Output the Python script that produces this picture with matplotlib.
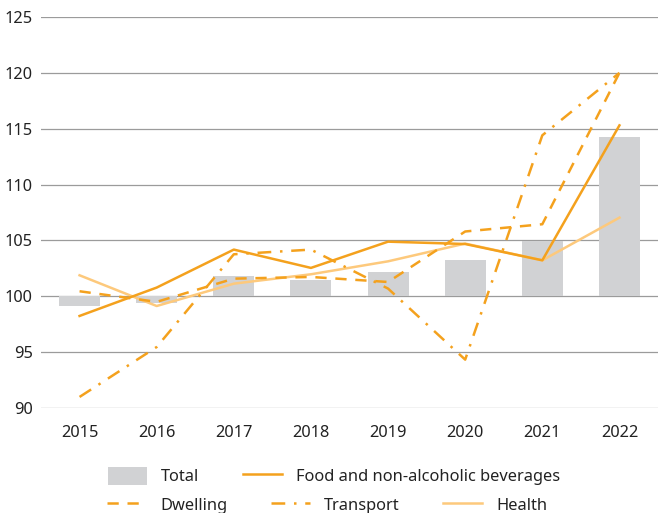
import matplotlib
matplotlib.use("Agg")
import matplotlib.pyplot as plt
from matplotlib.lines import Line2D
from matplotlib.patches import Patch
import numpy as np

plt.rcParams['font.family'] = ['Noto Sans', 'DejaVu Sans']

years = ["2015", "2016", "2017", "2018", "2019", "2020", "2021", "2022"]
total = [99.13, 99.43, 101.85, 101.43, 102.15, 103.25, 104.95, 114.23]
food = [98.24, 100.78, 104.18, 102.54, 104.89, 104.68, 103.22, 115.3]
dwelling = [100.45, 99.5, 101.58, 101.73, 101.28, 105.8, 106.45, 120.0]
transport = [90.99, 95.46, 103.76, 104.18, 100.69, 94.33, 114.41, 120.0]
health = [101.88, 99.13, 101.13, 101.97, 103.13, 104.72, 103.22, 107.04]
yticks = [90, 95, 100, 105, 110, 115, 120, 125]

dark = "#F4A11D"
light = "#FDC97C"
grey = "#D1D2D4"

fig = plt.figure(figsize=(6.58, 5.13), dpi=100)
ax = fig.add_axes([41/658, 1-408/513, 1-41/658, (408-17)/513])

x = np.arange(len(years))
base = 100
ax.bar(x, np.array(total) - base, bottom=base, width=0.53, color=grey, zorder=2)
lw = 1.8
ax.plot(x, food, color=dark, lw=lw, zorder=4)
ax.plot(x, dwelling, color=dark, lw=lw, linestyle=(0, (4.5, 3.5)), zorder=4)
ax.plot(x, transport, color=dark, lw=lw, linestyle=(0, (5.5, 3.5, 1, 3.5)), zorder=4)
ax.plot(x, health, color=light, lw=lw, zorder=3)

ax.set_xlim(-0.5, len(years) - 0.5)
ax.set_ylim(90, 125)
ax.set_yticks(yticks)
ax.set_xticks(x)
ax.set_xticklabels(years)
ax.yaxis.grid(True, color="#9b9b9b", lw=0.9, zorder=0)
ax.set_axisbelow(True)
for s in ax.spines.values():
    s.set_visible(False)
ax.tick_params(axis='both', length=0, labelsize=11.8, colors="#222222")
ax.tick_params(axis='y', pad=6)
ax.tick_params(axis='x', pad=12)

fs = 11.8
common = dict(frameon=False, fontsize=fs, handlelength=2.4, handletextpad=0.85,
              handleheight=1.3,
              columnspacing=2.65, borderpad=0, borderaxespad=0,
              bbox_transform=fig.transFigure, loc='center left')
h1 = [Patch(facecolor=grey, edgecolor='none'), Line2D([], [], color=dark, lw=lw)]
leg1 = fig.legend(h1, ["Total", "Food and non-alcoholic beverages"], ncol=2,
                  bbox_to_anchor=(108/658, 1-476/513), **common)
for t in leg1.get_texts():
    t.set_color("#222222")
h2 = [Line2D([], [], color=dark, lw=lw, linestyle=(0, (4.5, 3.5))),
      Line2D([], [], color=dark, lw=lw, linestyle=(0, (5.5, 3.5, 1, 3.5))),
      Line2D([], [], color=light, lw=lw)]
leg2 = fig.legend(h2, ["Dwelling", "Transport", "Health"], ncol=3,
                  bbox_to_anchor=(107/658, 1-505/513), **common)
for t in leg2.get_texts():
    t.set_color("#222222")

fig.savefig("out.png", dpi=100)
